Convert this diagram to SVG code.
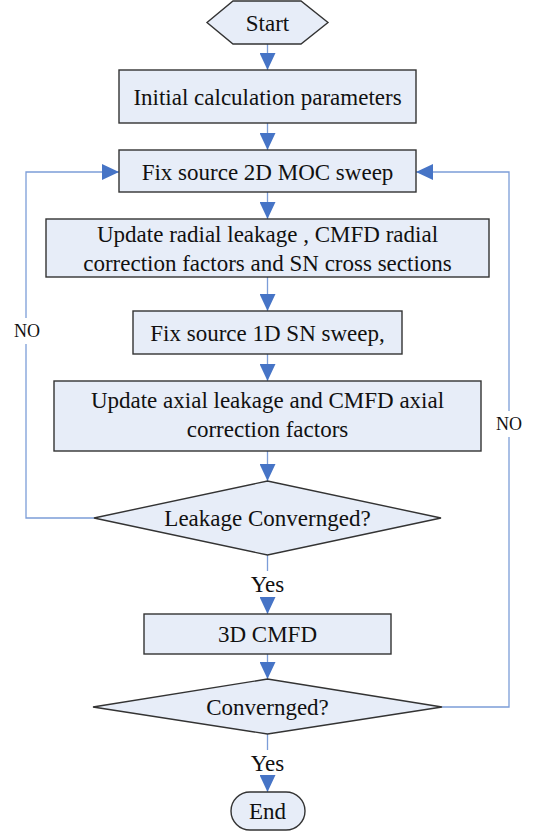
<svg xmlns="http://www.w3.org/2000/svg" width="533" height="832" viewBox="0 0 533 832">
  <style>
    .shape { fill: #E7EDF8; stroke: #333333; stroke-width: 1.4; }
    .label { font-family: "Liberation Serif", "Times New Roman", serif; font-size: 23px; fill: #111; text-anchor: middle; }
    .small { font-family: "Liberation Serif", "Times New Roman", serif; font-size: 18px; fill: #111; text-anchor: middle; }
    .wire { fill: none; stroke: #7C9DD8; stroke-width: 1.3; }
  </style>
  <defs>
    <marker id="head" markerUnits="userSpaceOnUse" markerWidth="18" markerHeight="16" refX="17" refY="8" orient="auto">
      <path d="M0,0 L17,8 L0,16 z" fill="#4674C6"/>
    </marker>
  </defs>

  <!-- connectors -->
  <g id="connectors">
    <path class="wire" d="M267.5,44 V70" marker-end="url(#head)"/>
    <path class="wire" d="M267.5,123 V150" marker-end="url(#head)"/>
    <path class="wire" d="M267.5,192 V219" marker-end="url(#head)"/>
    <path class="wire" d="M267.5,277 V311" marker-end="url(#head)"/>
    <path class="wire" d="M267.5,354 V381" marker-end="url(#head)"/>
    <path class="wire" d="M267.5,451 V481" marker-end="url(#head)"/>
    <path class="wire" d="M267.5,555 V571"/>
    <path class="wire" d="M267.5,597 V614" marker-end="url(#head)"/>
    <path class="wire" d="M267.5,654 V679" marker-end="url(#head)"/>
    <path class="wire" d="M267.5,734 V750"/>
    <path class="wire" d="M267.5,776 V792" marker-end="url(#head)"/>
    <!-- left loop: leakage not converged -->
    <path class="wire" d="M94,518 H26 V344"/>
    <path class="wire" d="M26,318 V172 H119" marker-end="url(#head)"/>
    <!-- right loop: not converged -->
    <path class="wire" d="M442,707 H509 V437"/>
    <path class="wire" d="M509,411 V172 H416" marker-end="url(#head)"/>
    <text class="small" x="27" y="337">NO</text>
    <text class="small" x="509" y="430">NO</text>
    <text class="label" x="267.5" y="592">Yes</text>
    <text class="label" x="267.5" y="771">Yes</text>
  </g>

  <g id="start">
    <polygon class="shape" points="207,22.5 233,1 301,1 328,22.5 301,44 233,44"/>
    <text class="label" x="267.5" y="31">Start</text>
  </g>

  <g id="init">
    <rect class="shape" x="119" y="70" width="297" height="53"/>
    <text class="label" x="267.5" y="105">Initial calculation parameters</text>
  </g>

  <g id="moc">
    <rect class="shape" x="119" y="150" width="297" height="42"/>
    <text class="label" x="267.5" y="180">Fix source 2D MOC sweep</text>
  </g>

  <g id="radial">
    <rect class="shape" x="46" y="219" width="443" height="58"/>
    <text class="label" x="267.5" y="242">Update radial leakage , CMFD radial</text>
    <text class="label" x="267.5" y="271">correction factors and SN cross sections</text>
  </g>

  <g id="sn">
    <rect class="shape" x="133" y="311" width="269" height="43"/>
    <text class="label" x="267.5" y="341">Fix source 1D SN sweep,</text>
  </g>

  <g id="axial">
    <rect class="shape" x="54" y="381" width="427" height="70"/>
    <text class="label" x="267.5" y="408">Update axial leakage and CMFD axial</text>
    <text class="label" x="267.5" y="437">correction factors</text>
  </g>

  <g id="leakage-check">
    <polygon class="shape" points="94,518 267.5,481 441,518 267.5,555"/>
    <text class="label" x="267.5" y="526">Leakage Convernged?</text>
  </g>

  <g id="cmfd">
    <rect class="shape" x="144" y="614" width="247" height="40"/>
    <text class="label" x="267.5" y="642">3D CMFD</text>
  </g>

  <g id="converge-check">
    <polygon class="shape" points="93,707 267.5,679 442,707 267.5,734"/>
    <text class="label" x="267.5" y="715">Convernged?</text>
  </g>

  <g id="end">
    <rect class="shape" x="231" y="792" width="74" height="38" rx="19" ry="19"/>
    <text class="label" x="267.5" y="819">End</text>
  </g>
</svg>
